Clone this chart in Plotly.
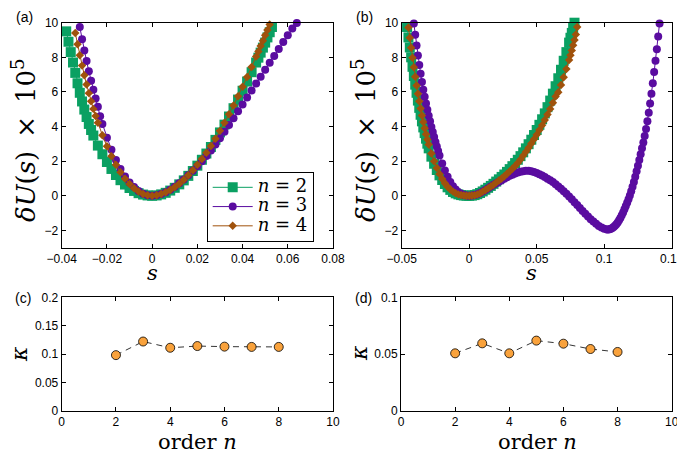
import plotly.graph_objects as go

# The page is drawn with an 8 px body margin, so the figure is sized to the
# visible area and reference pixel positions are offset by that margin.
PAGE_W, PAGE_H = 685, 453
OFF = 8
W, H = PAGE_W - OFF, PAGE_H - OFF

# ---------------- data: panel (a) ----------------
s_a_n2 = [-0.038, -0.037, -0.036, -0.035, -0.034, -0.033, -0.032, -0.031, -0.030, -0.029, -0.028, -0.027, -0.026,
          -0.024, -0.022, -0.020, -0.018, -0.016, -0.014, -0.012, -0.010, -0.008, -0.006, -0.004, -0.002, 0.0,
          0.002, 0.004, 0.006, 0.008, 0.010, 0.012, 0.014, 0.016, 0.018, 0.020, 0.022, 0.024, 0.026, 0.028,
          0.030, 0.032, 0.034, 0.036, 0.038, 0.040, 0.042, 0.044, 0.046, 0.047, 0.048, 0.049, 0.050, 0.051,
          0.052, 0.053]
U_a_n2 = [9.5, 8.9, 8.3, 7.7, 7.1, 6.5, 5.95, 5.45, 4.98, 4.55, 4.15, 3.8, 3.48,
          2.9, 2.4, 1.95, 1.55, 1.2, 0.9, 0.65, 0.45, 0.28, 0.15, 0.07, 0.02, 0.0,
          0.02, 0.08, 0.17, 0.3, 0.46, 0.66, 0.89, 1.15, 1.43, 1.74, 2.08, 2.44, 2.82, 3.23,
          3.66, 4.11, 4.58, 5.06, 5.56, 6.07, 6.6, 7.14, 7.7, 7.98, 8.27, 8.56, 8.85, 9.15,
          9.45, 9.75]

s_a_n3 = [-0.032, -0.031, -0.030, -0.029, -0.028, -0.027, -0.026, -0.025, -0.024, -0.023, -0.022,
          -0.020, -0.018, -0.016, -0.014, -0.012, -0.010, -0.008, -0.006, -0.004, -0.002, 0.0,
          0.002, 0.004, 0.006, 0.008, 0.010, 0.012, 0.014, 0.016, 0.018, 0.020, 0.022, 0.024, 0.026,
          0.028, 0.030, 0.032, 0.034, 0.036, 0.038, 0.040, 0.042, 0.044, 0.046, 0.048, 0.050, 0.052,
          0.054, 0.056, 0.058, 0.060, 0.062, 0.064]
U_a_n3 = [9.75, 9.05, 8.4, 7.78, 7.2, 6.65, 6.12, 5.62, 5.15, 4.6, 4.15,
          3.35, 2.66, 2.06, 1.55, 1.12, 0.77, 0.5, 0.27, 0.12, 0.03, 0.0,
          0.03, 0.1, 0.21, 0.35, 0.52, 0.72, 0.94, 1.18, 1.44, 1.71, 2.0, 2.3, 2.62,
          2.96, 3.32, 3.7, 4.09, 4.48, 4.88, 5.28, 5.68, 6.08, 6.48, 6.88, 7.28, 7.68,
          8.08, 8.48, 8.88, 9.28, 9.66, 9.98]

s_a_n4 = [-0.034, -0.033, -0.032, -0.031, -0.030, -0.029, -0.028, -0.027, -0.026, -0.025, -0.024,
          -0.022, -0.020, -0.018, -0.016, -0.014, -0.012, -0.010, -0.008, -0.006, -0.004, -0.002, 0.0,
          0.002, 0.004, 0.006, 0.008, 0.010, 0.012, 0.014, 0.016, 0.018, 0.020, 0.022, 0.024, 0.026,
          0.028, 0.030, 0.032, 0.034, 0.036, 0.038, 0.040, 0.042, 0.044, 0.046, 0.047, 0.048, 0.049,
          0.050, 0.051, 0.052]
U_a_n4 = [9.4, 8.75, 8.12, 7.52, 6.96, 6.43, 5.93, 5.46, 5.02, 4.61, 4.22,
          3.5, 2.86, 2.29, 1.79, 1.36, 0.99, 0.68, 0.43, 0.24, 0.1, 0.03, 0.0,
          0.03, 0.1, 0.2, 0.33, 0.5, 0.7, 0.93, 1.19, 1.48, 1.79, 2.13, 2.49, 2.88,
          3.3, 3.75, 4.22, 4.71, 5.22, 5.75, 6.3, 6.86, 7.44, 8.04, 8.34, 8.65, 8.96,
          9.27, 9.58, 9.9]

# ---------------- data: panel (b) ----------------
s_b_n2 = [-0.046, -0.045, -0.044, -0.043, -0.042, -0.041, -0.040, -0.039, -0.038, -0.037, -0.036, -0.035,
          -0.034, -0.033, -0.032, -0.031, -0.030, -0.028, -0.026, -0.024, -0.022, -0.020, -0.018, -0.016,
          -0.014, -0.012, -0.010, -0.008, -0.006, -0.004, -0.002, 0.0,
          0.002, 0.004, 0.006, 0.008, 0.010, 0.012, 0.014, 0.016, 0.018, 0.020, 0.022, 0.024, 0.026, 0.028,
          0.030, 0.032, 0.034, 0.036, 0.038, 0.040, 0.042, 0.044, 0.046, 0.048, 0.050, 0.052, 0.054, 0.056,
          0.058, 0.060, 0.062, 0.064, 0.066, 0.068, 0.070, 0.072, 0.074, 0.075, 0.076, 0.077, 0.078]
U_b_n2 = [9.75, 9.15, 8.57, 8.0, 7.45, 6.92, 6.42, 5.95, 5.5, 5.08, 4.68, 4.3,
          3.95, 3.62, 3.3, 3.01, 2.74, 2.26, 1.85, 1.49, 1.18, 0.91, 0.68, 0.49,
          0.34, 0.22, 0.14, 0.08, 0.04, 0.015, 0.004, 0.0,
          0.01, 0.04, 0.09, 0.16, 0.25, 0.35, 0.46, 0.57, 0.69, 0.82, 0.95, 1.09, 1.23, 1.38,
          1.54, 1.71, 1.89, 2.08, 2.29, 2.51, 2.74, 2.98, 3.24, 3.51, 3.8, 4.1, 4.42, 4.76,
          5.12, 5.5, 5.9, 6.33, 6.79, 7.28, 7.8, 8.3, 8.85, 9.13, 9.41, 9.7, 10.0]

s_b_n3 = [-0.041, -0.040, -0.039, -0.038, -0.037, -0.036, -0.035, -0.034, -0.033, -0.032, -0.031, -0.030,
          -0.029, -0.028, -0.027, -0.026, -0.025, -0.024, -0.023, -0.022, -0.020, -0.018, -0.016, -0.014,
          -0.012, -0.010, -0.008, -0.006, -0.004, -0.002, 0.0,
          0.002, 0.004, 0.006, 0.008, 0.010, 0.012, 0.014, 0.016, 0.018, 0.020, 0.022, 0.024, 0.026, 0.028,
          0.030, 0.032, 0.034, 0.036, 0.038, 0.040, 0.042, 0.044, 0.046, 0.048, 0.050, 0.052, 0.054, 0.056,
          0.058, 0.060, 0.062, 0.064, 0.066, 0.068, 0.070, 0.072, 0.074, 0.076, 0.078, 0.080, 0.082, 0.084,
          0.086, 0.088, 0.090, 0.092, 0.094, 0.096, 0.098, 0.100, 0.102,
          0.103, 0.104, 0.105, 0.106, 0.107, 0.108, 0.109, 0.110, 0.111, 0.112, 0.113, 0.114, 0.115, 0.116,
          0.117, 0.118, 0.119, 0.120, 0.121, 0.122, 0.123, 0.124, 0.125, 0.126, 0.127, 0.128, 0.129, 0.130,
          0.131, 0.132, 0.133, 0.134, 0.135, 0.136, 0.137, 0.138, 0.139, 0.140, 0.141]
U_b_n3 = [9.95, 9.3, 8.68, 8.1, 7.56, 7.05, 6.58, 6.13, 5.72, 5.33, 4.97, 4.63,
          4.3, 3.98, 3.68, 3.39, 3.11, 2.84, 2.58, 2.33, 1.87, 1.46, 1.1, 0.8,
          0.55, 0.36, 0.21, 0.11, 0.04, 0.01, 0.0,
          0.01, 0.04, 0.09, 0.16, 0.25, 0.34, 0.44, 0.54, 0.63, 0.72, 0.81, 0.9, 0.99, 1.07,
          1.15, 1.22, 1.29, 1.34, 1.39, 1.42, 1.44, 1.44, 1.42, 1.38, 1.32, 1.25, 1.17, 1.08,
          0.98, 0.89, 0.79, 0.67, 0.54, 0.4, 0.26, 0.11, -0.04, -0.2, -0.37, -0.54, -0.71, -0.88,
          -1.04, -1.2, -1.35, -1.49, -1.62, -1.74, -1.84, -1.91, -1.95,
          -1.95, -1.93, -1.9, -1.86, -1.8, -1.73, -1.64, -1.54, -1.42, -1.28, -1.13, -0.96, -0.78, -0.59,
          -0.4, -0.2, 0.02, 0.26, 0.52, 0.8, 1.1, 1.41, 1.73, 2.06, 2.4, 2.74, 3.08, 3.46,
          3.86, 4.3, 4.8, 5.33, 5.9, 6.5, 7.15, 7.8, 8.47, 9.2, 9.96]

s_b_n4 = [-0.045, -0.044, -0.043, -0.042, -0.041, -0.040, -0.039, -0.038, -0.037, -0.036, -0.035, -0.034,
          -0.033, -0.032, -0.031, -0.030, -0.028, -0.026, -0.024, -0.022, -0.020, -0.018, -0.016, -0.014,
          -0.012, -0.010, -0.008, -0.006, -0.004, -0.002, 0.0,
          0.002, 0.004, 0.006, 0.008, 0.010, 0.012, 0.014, 0.016, 0.018, 0.020, 0.022, 0.024, 0.026, 0.028,
          0.030, 0.032, 0.034, 0.036, 0.038, 0.040, 0.042, 0.044, 0.046, 0.048, 0.050, 0.052, 0.054, 0.056,
          0.058, 0.060, 0.062, 0.064, 0.066, 0.068, 0.070, 0.072, 0.074, 0.075, 0.076, 0.077, 0.078, 0.079,
          0.080]
U_b_n4 = [9.72, 9.13, 8.55, 7.98, 7.42, 6.88, 6.37, 5.9, 5.46, 5.04, 4.64, 4.26,
          3.9, 3.56, 3.25, 2.96, 2.44, 1.99, 1.6, 1.26, 0.97, 0.72, 0.52, 0.36,
          0.24, 0.15, 0.08, 0.04, 0.015, 0.004, 0.0,
          0.01, 0.03, 0.08, 0.15, 0.24, 0.33, 0.43, 0.53, 0.64, 0.76, 0.88, 1.0, 1.13, 1.27,
          1.41, 1.56, 1.72, 1.9, 2.1, 2.32, 2.55, 2.78, 3.02, 3.27, 3.53, 3.8, 4.08, 4.38,
          4.69, 5.02, 5.37, 5.73, 5.98, 6.4, 6.85, 7.33, 7.85, 8.12, 8.4, 8.7, 9.0, 9.32,
          9.75]

# ---------------- data: panels (c), (d) ----------------
order_n = [2, 3, 4, 5, 6, 7, 8]
kappa_c = [0.098, 0.122, 0.111, 0.114, 0.113, 0.1125, 0.1125]
kappa_d = [0.0506, 0.0594, 0.0506, 0.0618, 0.0591, 0.0544, 0.0518]

legend_labels = ["<i>n</i> = 2", "<i>n</i> = 3", "<i>n</i> = 4"]

# ---------------- styles ----------------
C_GREEN = "#0AA062"
C_PURPLE = "#5A0CA0"
C_BROWN = "#A0520C"
C_ORANGE = "#F9A23C"

series_style = [
    (C_GREEN, "square", 10),
    (C_PURPLE, "circle", 8),
    (C_BROWN, "diamond", 6.5),
]

fig = go.Figure()

panel_a = [(s_a_n2, U_a_n2), (s_a_n3, U_a_n3), (s_a_n4, U_a_n4)]
panel_b = [(s_b_n2, U_b_n2), (s_b_n3, U_b_n3), (s_b_n4, U_b_n4)]

for (sx, uy), (col, sym, ms), lab in zip(panel_a, series_style, legend_labels):
    fig.add_trace(go.Scatter(
        x=sx, y=uy, mode="lines+markers", xaxis="x", yaxis="y",
        line=dict(color=col, width=1),
        marker=dict(color=col, symbol=sym, size=ms, line=dict(width=0)),
        name="<span style='font-size:18px'>" + lab + "</span>",
        showlegend=True, cliponaxis=False,
    ))

for (sx, uy), (col, sym, ms) in zip(panel_b, series_style):
    fig.add_trace(go.Scatter(
        x=sx, y=uy, mode="lines+markers", xaxis="x2", yaxis="y2",
        line=dict(color=col, width=1),
        marker=dict(color=col, symbol=sym, size=ms, line=dict(width=0)),
        showlegend=False, cliponaxis=False,
    ))

for kap, xa, ya in [(kappa_c, "x3", "y3"), (kappa_d, "x4", "y4")]:
    fig.add_trace(go.Scatter(
        x=order_n, y=kap, mode="lines+markers", xaxis=xa, yaxis=ya,
        line=dict(color="black", width=0.8, dash="6px,5px"),
        marker=dict(color=C_ORANGE, symbol="circle", size=9, line=dict(color="black", width=0.8)),
        showlegend=False, cliponaxis=False,
    ))


def px_x(p):
    return (p - OFF) / W


def px_y(p):
    return 1 - (p - OFF) / H


axis_common = dict(
    showline=True, linecolor="black", linewidth=1, mirror="ticks",
    ticks="inside", ticklen=4, tickwidth=1, tickcolor="black",
    showgrid=False, zeroline=False, automargin=False, ticklabeloverflow="allow",
    tickfont=dict(family="Liberation Sans, Arial", size=12, color="black"),
)

xa_dom = [px_x(61.7), px_x(333)]
xb_dom = [px_x(401.7), px_x(671.7)]
ytop_dom = [px_y(247.7), px_y(22.7)]
ybot_dom = [px_y(410.7), px_y(297.3)]

fig.update_layout(
    width=W, height=H,
    margin=dict(l=0, r=0, t=0, b=0, pad=0, autoexpand=False),
    paper_bgcolor="white", plot_bgcolor="white",
    xaxis=dict(domain=xa_dom, range=[-0.04, 0.08], dtick=0.02, tick0=0, anchor="y", **axis_common),
    yaxis=dict(domain=ytop_dom, range=[-3, 10], tickvals=[-2, 0, 2, 4, 6, 8, 10], anchor="x", **axis_common),
    xaxis2=dict(domain=xb_dom, range=[-0.05, 0.15], dtick=0.05, tick0=0, anchor="y2", **axis_common),
    yaxis2=dict(domain=ytop_dom, range=[-3, 10], tickvals=[-2, 0, 2, 4, 6, 8, 10], anchor="x2", **axis_common),
    xaxis3=dict(domain=xa_dom, range=[0, 10], dtick=2, anchor="y3", **axis_common),
    yaxis3=dict(domain=ybot_dom, range=[0, 0.2], dtick=0.05, anchor="x3", **axis_common),
    xaxis4=dict(domain=[px_x(401), px_x(671.7)], range=[0, 10], dtick=2, anchor="y4", **axis_common),
    yaxis4=dict(domain=ybot_dom, range=[0, 0.1], dtick=0.05, anchor="x4", **axis_common),
    legend=dict(
        x=px_x(206.7), y=px_y(171.7), xanchor="left", yanchor="top",
        bordercolor="black", borderwidth=1, bgcolor="white",
        font=dict(family="DejaVu Serif", size=12.5, color="black"),
        itemwidth=40, tracegroupgap=0,
    ),
    showlegend=True,
)

SERIF = "DejaVu Serif"
SANS = "Liberation Sans, Arial"
ann = []


def add_text(text, x, y, size, family, angle=0, yanchor="middle"):
    ann.append(dict(text=text, x=px_x(x), y=px_y(y), xref="paper", yref="paper",
                    showarrow=False, xanchor="center", yanchor=yanchor,
                    textangle=angle, font=dict(family=family, size=size, color="black")))


add_text("(a)", 24, 17, 14, SANS)
add_text("(b)", 364, 17, 14, SANS)
add_text("(c)", 23, 298, 14, SANS)
add_text("(d)", 363, 298, 14, SANS)
ytitle = "<i>δU</i>(<i>s</i>)\u2002×\u200210<sup>5</sup>"
add_text(ytitle, 24, 140, 26, SERIF, -90)
add_text(ytitle, 364, 140, 26, SERIF, -90)
add_text("<i>s</i>", 152, 273, 21, SERIF)
add_text("<i>s</i>", 531, 273, 21, SERIF)
add_text("order <i>n</i>", 197, 456, 21, SERIF, 0, "bottom")
add_text("order <i>n</i>", 537, 456, 21, SERIF, 0, "bottom")
add_text("<i>κ</i>", 19, 354, 22, SERIF, -90)
add_text("<i>κ</i>", 359, 353, 22, SERIF, -90)

fig.update_layout(annotations=ann)

fig.write_html("out.html")
